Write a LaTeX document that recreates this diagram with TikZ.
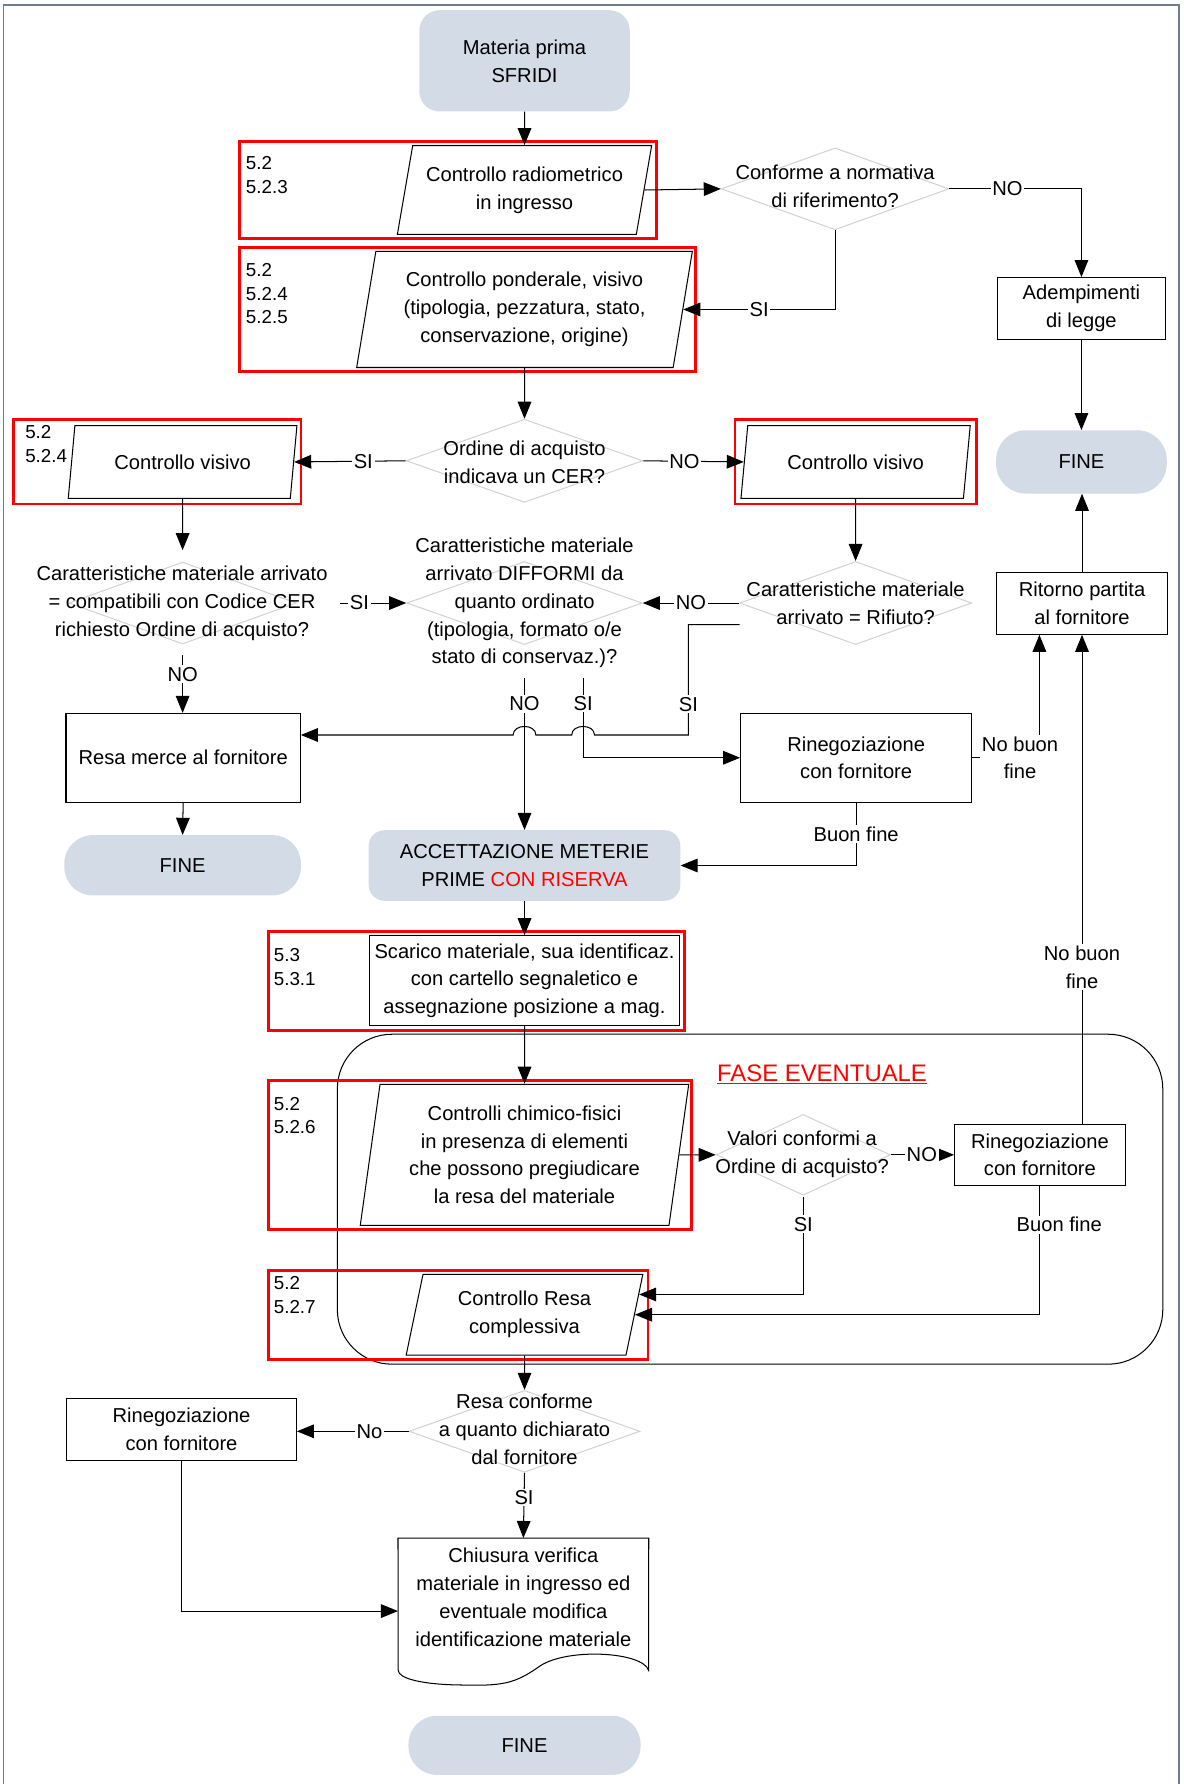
\documentclass[tikz,border=0pt]{standalone}
\usepackage{fontspec}
\setmainfont{Liberation Sans}
\usetikzlibrary{arrows.meta,positioning,calc}
\usetikzlibrary{shapes}
\definecolor{termfill}{RGB}{211,219,230}
\definecolor{diagray}{RGB}{210,210,210}
\definecolor{framegray}{RGB}{112,124,142}

\begin{document}
\begin{tikzpicture}[x=1pt,y=-1pt,
    font=\fontsize{17.7}{24.5}\selectfont,
    flow/.style={-{Triangle[length=15pt,width=12pt]},line width=0.9pt},
    term/.style={fill=termfill,align=center,inner sep=0pt},
    proc/.style={draw,line width=0.9pt,align=center,inner sep=2pt},
    io/.style={trapezium,draw,line width=0.9pt,trapezium stretches body,align=center,inner sep=1pt},
    dec/.style={diamond,draw=diagray,line width=0.9pt,inner sep=0pt},
    dtext/.style={align=center,inner sep=0pt},
    lbl/.style={fill=white,inner sep=1.5pt,align=center},
    refs/.style={anchor=north west,align=left,inner sep=0pt,font=\fontsize{16.5}{20.7}\selectfont},
    redbox/.style={draw=red,line width=2.5pt}]

      \useasboundingbox (0,0) rectangle (1040,1568);
      \draw[framegray,line width=1.5pt] (3,1575) -- (3,4.5) -- (1036,4.5) -- (1036,1575);

      % optional phase
      \draw[line width=0.9pt,rounded corners=48pt] (296.5,909) rectangle (1022,1199);
      \node[text=red,font=\fontsize{21}{25}\selectfont] (fase) at (722.5,944) {\underline{FASE EVENTUALE}};

      % procedure references
      \draw[redbox] (210.6,124) rectangle (576.8,209.5);
      \draw[redbox] (210.6,217.7) rectangle (611.3,326.2);
      \draw[redbox] (12,368.4) rectangle (264.5,443);
      \draw[redbox] (646,368.4) rectangle (858.5,443);
      \draw[redbox] (236,818.5) rectangle (601.5,906);
      \draw[redbox] (236,949.5) rectangle (608,1080.6);
      \draw[redbox] (236,1116.5) rectangle (569.5,1194.8);

      \node[refs] (r1) at (216,137.5) {5.2\\5.2.3};
      \node[refs] (r2) at (216,231.5) {5.2\\5.2.4\\5.2.5};
      \node[refs] (r3) at (22,374) {5.2\\5.2.4};
      \node[refs] (r4) at (240.5,833.5) {5.3\\5.3.1};
      \node[refs] (r5) at (240.5,964) {5.2\\5.2.6};
      \node[refs] (r6) at (240.5,1122) {5.2\\5.2.7};

      % main column
      \node[term,rounded corners=18pt,minimum width=185pt,minimum height=89pt] (mat) at (461,53.5) {Materia prima\\SFRIDI};
      \node[io,trapezium left angle=72.6,trapezium right angle=107.4,minimum width=223.5pt,minimum height=78pt] (pr1) at (461,167) {Controllo radiometrico\\in ingresso};
      \node[io,trapezium left angle=76,trapezium right angle=104,minimum width=295pt,minimum height=102pt] (pr2) at (461,272) {Controllo ponderale, visivo\\(tipologia, pezzatura, stato,\\conservazione, origine)};
      \node[dec,minimum width=208pt,minimum height=73pt] (d2) at (461,405) {};
      \node[dtext] (t2) at (461,406.5) {Ordine di acquisto\\indicava un CER?};
      \node[dec,minimum width=207pt,minimum height=73pt] (d4) at (461,530) {};
      \node[dtext] (t4) at (461,530) {Caratteristiche materiale\\arrivato DIFFORMI da\\quanto ordinato\\(tipologia, formato o/e\\stato di conservaz.)?};
      \node[term,rounded corners=14pt,minimum width=274pt,minimum height=62pt] (acc) at (461,760.7) {ACCETTAZIONE METERIE\\PRIME {\color{red}CON RISERVA}};
      \node[proc,minimum width=273pt,minimum height=79pt] (scar) at (461,862) {Scarico materiale, sua identificaz.\\con cartello segnaletico e\\assegnazione posizione a mag.};
      \node[io,trapezium left angle=78.9,trapezium right angle=101.1,minimum width=288.7pt,minimum height=124pt] (pr4) at (461,1015) {Controlli chimico-fisici\\in presenza di elementi\\che possono pregiudicare\\la resa del materiale};
      \node[io,trapezium left angle=71,trapezium right angle=109,minimum width=208pt,minimum height=71pt] (pr5) at (461,1155.5) {Controllo Resa\\complessiva};
      \node[dec,minimum width=203pt,minimum height=72pt] (d7) at (461,1258) {};
      \node[dtext] (t7) at (461,1256) {Resa conforme\\a quanto dichiarato\\dal fornitore};
      \node[minimum width=220pt,minimum height=104pt,align=center,inner sep=0pt] (chi) at (460,1404) {Chiusura verifica\\materiale in ingresso ed\\eventuale modifica\\identificazione materiale};
      \draw[line width=0.9pt] (chi.north west) -- (chi.north east) -- (570,1468)
            .. controls (565,1452) and (500,1448) .. (475,1464)
            .. controls (455,1478) and (445,1482) .. (410,1481)
            .. controls (370,1481) and (350,1475) .. (350,1468) -- cycle;
      \node[term,rounded corners=25pt,minimum width=204pt,minimum height=52pt] (fineb) at (461,1534) {FINE};

      % right of the column
      \node[dec,minimum width=200pt,minimum height=72pt] (d1) at (734,166) {};
      \node[dtext] (t1) at (734,164) {Conforme a normativa\\di riferimento?};
      \node[proc,minimum width=148pt,minimum height=54pt] (adem) at (950.5,271) {Adempimenti\\di legge};
      \node[term,rounded corners=26pt,minimum width=150pt,minimum height=55.6pt] (finer) at (950.5,406) {FINE};
      \node[io,trapezium left angle=68.3,trapezium right angle=111.7,minimum width=201.5pt,minimum height=64pt] (pv2) at (752,406) {Controllo visivo};
      \node[dec,minimum width=204pt,minimum height=73pt] (d5) at (752,530) {};
      \node[dtext] (t5) at (752,530) {Caratteristiche materiale\\arrivato = Rifiuto?};
      \node[proc,minimum width=150pt,minimum height=54pt] (rit) at (951,530.5) {Ritorno partita\\al fornitore};
      \node[proc,minimum width=203pt,minimum height=78pt] (rin1) at (752.5,666) {Rinegoziazione\\con fornitore};
      \node[dec,minimum width=153pt,minimum height=71pt] (d6) at (706,1015) {};
      \node[dtext] (t6) at (705,1014.5) {Valori conformi a\\Ordine di acquisto?};
      \node[proc,minimum width=150pt,minimum height=54pt] (rin2) at (914,1015) {Rinegoziazione\\con fornitore};

      % left of the column
      \node[io,trapezium left angle=68.7,trapezium right angle=111.3,minimum width=201pt,minimum height=64pt] (pv1) at (160.5,406) {Controllo visivo};
      \node[dec,minimum width=200pt,minimum height=72pt] (d3) at (160.5,530) {};
      \node[dtext] (t3) at (160,530) {Caratteristiche materiale arrivato\\= compatibili con Codice CER\\richiesto Ordine di acquisto?};
      \node[proc,minimum width=206pt,minimum height=78pt] (resa) at (161,666) {Resa merce al fornitore};
      \node[term,rounded corners=25pt,minimum width=208pt,minimum height=53pt] (finel) at (160.5,760.5) {FINE};
      \node[proc,minimum width=202pt,minimum height=54.5pt] (rin3) at (159.5,1256.5) {Rinegoziazione\\con fornitore};

      \coordinate (c3e) at (299,530);
      \coordinate (c3s) at (160.5,576);
      \coordinate (c4a) at (461,596);
      \coordinate (c4b) at (512.5,596);
      \coordinate (c5) at (650,549);
      \coordinate (j5) at (605,646);
      \coordinate (c6) at (706,1052);

      % connectors
      \draw[flow] (mat.south) -- (pr1.north);
      \draw[flow] (pr1.east) -- (d1.west);
      \draw[flow] (d1.east) -| node[lbl,pos=0.22] (l1) {NO} (adem.north);
      \draw[flow] (adem.south) -- (adem.south |- finer.north);
      \draw[flow] (d1.south) |- node[lbl,pos=0.75] (l2) {SI} (pr2.east);
      \draw[flow] (pr2.south) -- (d2.north);
      \draw[flow] (d2.west) -- node[lbl,pos=0.38] (l3) {SI} (pv1.east);
      \draw[flow] (d2.east) -- node[lbl,pos=0.41] (l4) {NO} (pv2.west);
      \draw[flow] (pv1.south) -- ([yshift=10pt]d3.north);
      \draw[flow] (pv2.south) -- (d5.north);
      \draw[flow] (c3e) -- node[lbl,pos=0.29] (l5) {SI} (d4.west);
      \draw[flow] (d5.west) -- node[lbl] (l6) {NO} (d4.east);
      \draw[flow] (c3s) -- node[lbl,pos=0.33] (l7) {NO} (c3s |- resa.north);
      \draw[flow] (resa.south) -- (finel.north);
      \draw[flow] (c5) -| node[lbl,pos=0.86] (l8) {SI} (j5) -- (522.5,646)
            .. controls (522.5,636) and (502.5,636) .. (502.5,646) -- (471,646)
            .. controls (471,636) and (451,636) .. (451,646) -- (resa.east |- j5);
      \draw[flow] (c4a) -- node[lbl,pos=0.17] (l9) {NO} (c4a |- acc.north);
      \draw[flow] (c4b) |- node[lbl,pos=0.16] (l10) {SI} (rin1.west);
      \draw[flow] (rin1.east) -| node[lbl,pos=0.5,xshift=-17pt] (l11) {No buon\\fine} ([xshift=38pt]rit.south west);
      \draw[flow] (rin1.south) |- node[lbl,pos=0.25] (l12) {Buon fine} (acc.east);
      \draw[flow] (rit.north) -- (rit.north |- finer.south);
      \draw[flow] (rin2.north -| rit.south) -- node[lbl,pos=0.32] (l13) {No buon\\fine} (rit.south);
      \draw[flow] (acc.south) -- (scar.north);
      \draw[flow] (scar.south) -- (pr4.north);
      \draw[flow] (pr4.east) -- (d6.west);
      \draw[flow] (d6.east) -- node[lbl,pos=0.49] (l14) {NO} (rin2.west);
      \draw[flow] (c6) |- node[lbl,pos=0.14] (l15) {SI} (pr5.10);
      \draw[flow] (rin2.south) |- node[lbl,pos=0.15,xshift=17pt] (l16) {Buon fine} (pr5.east);
      \draw[flow] (pr5.south) -- (d7.north);
      \draw[flow] (d7.west) -- node[lbl,pos=0.35] (l17) {No} (d7.west -| rin3.east);
      \draw[flow] (d7.south) -- node[lbl,pos=0.38] (l18) {SI} (chi.north);
      \draw[flow] (rin3.south) |- ([yshift=-12pt]chi.west);

    \end{tikzpicture}
\end{document}
